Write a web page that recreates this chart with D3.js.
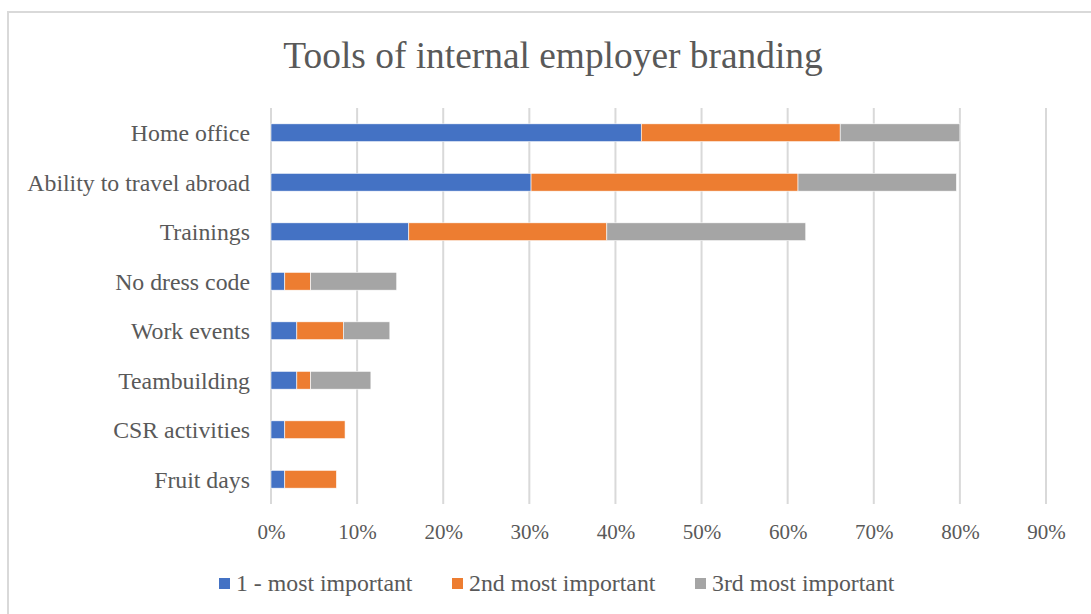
<!DOCTYPE html>
<html>
<head>
<meta charset="utf-8">
<script src="https://cdn.jsdelivr.net/npm/d3@7/dist/d3.min.js"></script>
<style>
  html, body { margin: 0; padding: 0; background: #fff; }
  svg { display: block; }
</style>
</head>
<body>
<svg id="chart" width="1091" height="614"></svg>
<script>
// Share of respondents ranking each tool 1st, 2nd and 3rd (percent)
const categories = [
  "Home office",
  "Ability to travel abroad",
  "Trainings",
  "No dress code",
  "Work events",
  "Teambuilding",
  "CSR activities",
  "Fruit days"
];
const seriesNames = ["1 - most important", "2nd most important", "3rd most important"];
const first  = [43.0, 30.2, 16.0, 1.6, 3.0, 3.0, 1.6, 1.6];
const second = [23.1, 31.0, 23.0, 3.0, 5.4, 1.6, 7.0, 6.0];
const third  = [13.9, 18.4, 23.1, 10.0, 5.4, 7.0, 0.0, 0.0];
const xTicks = [0, 10, 20, 30, 40, 50, 60, 70, 80, 90];
const colors = ["#4472c4", "#ed7d31", "#a5a5a5"];

const font = "'Liberation Serif', 'Times New Roman', serif";
const textColor = "#595959";

const svg = d3.select("#chart");

// Outer chart frame
svg.append("rect")
  .attr("x", 8).attr("y", 12)
  .attr("width", 1100).attr("height", 620)
  .attr("fill", "#fff")
  .attr("stroke", "#d9d9d9").attr("stroke-width", 2);

// Title
svg.append("text")
  .attr("x", 553).attr("y", 68)
  .attr("text-anchor", "middle")
  .attr("font-family", font)
  .attr("font-size", 37.4)
  .attr("fill", textColor)
  .text("Tools of internal employer branding");

const plot = { left: 271, right: 1046, top: 108, bottom: 504 };

const x = d3.scaleLinear().domain([0, 90]).range([plot.left, plot.right]);
const y = d3.scaleBand().domain(categories)
  .range([plot.top, plot.bottom])
  .paddingInner(0.64).paddingOuter(0.32);

// Vertical gridlines
svg.append("g")
  .selectAll("line")
  .data(xTicks)
  .join("line")
  .attr("x1", d => x(d)).attr("x2", d => x(d))
  .attr("y1", plot.top).attr("y2", plot.bottom)
  .attr("stroke", "#d9d9d9").attr("stroke-width", 2);

// Stack the three rank series
const rows = categories.map((c, i) => ({
  cat: c,
  [seriesNames[0]]: first[i],
  [seriesNames[1]]: second[i],
  [seriesNames[2]]: third[i]
}));
const stacked = d3.stack().keys(seriesNames)(rows);

svg.append("g")
  .selectAll("g")
  .data(stacked)
  .join("g")
  .attr("fill", (d, i) => colors[i])
  .selectAll("rect")
  .data(d => d.filter(s => s[1] - s[0] > 0))
  .join("rect")
  .attr("x", d => x(d[0]))
  .attr("width", d => x(d[1]) - x(d[0]))
  .attr("y", d => y(d.data.cat))
  .attr("height", y.bandwidth())
  .attr("stroke", "#fff").attr("stroke-width", 0.6);

// Category axis labels
const yAxis = d3.axisLeft(y).tickSize(0).tickPadding(21);
const yg = svg.append("g")
  .attr("transform", `translate(${plot.left},0)`)
  .call(yAxis);
yg.select(".domain").remove();
yg.selectAll("text")
  .attr("font-family", font)
  .attr("font-size", 23.8)
  .attr("fill", textColor)
  .attr("dy", "0.35em");

// Percentage axis labels
const xAxis = d3.axisBottom(x).tickValues(xTicks)
  .tickFormat(d => d + "%").tickSize(0).tickPadding(20);
const xg = svg.append("g")
  .attr("transform", `translate(0,${plot.bottom})`)
  .call(xAxis);
xg.select(".domain").remove();
xg.selectAll("text")
  .attr("font-family", font)
  .attr("font-size", 21)
  .attr("fill", textColor);

// Legend
const legendX = [219, 452, 695];
const legend = svg.append("g")
  .selectAll("g")
  .data(seriesNames)
  .join("g")
  .attr("transform", (d, i) => `translate(${legendX[i]},578)`);
legend.append("rect")
  .attr("width", 11).attr("height", 11)
  .attr("fill", (d, i) => colors[i]);
legend.append("text")
  .attr("x", 17).attr("y", 13)
  .attr("font-family", font)
  .attr("font-size", 23.8)
  .attr("fill", textColor)
  .text(d => d);
</script>
</body>
</html>
